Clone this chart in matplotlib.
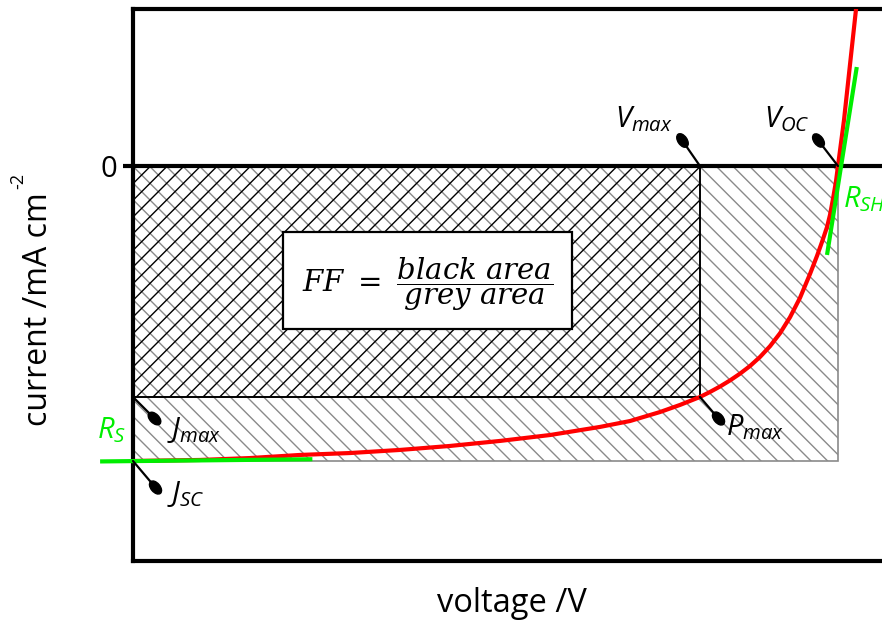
import matplotlib
matplotlib.use("Agg")
import matplotlib.pyplot as plt
from matplotlib.patches import Rectangle
from matplotlib.markers import MarkerStyle
from matplotlib.transforms import Affine2D, offset_copy
import numpy as np

plt.rcParams['font.family'] = ['Open Sans', 'DejaVu Sans']
plt.rcParams['mathtext.fontset'] = 'custom'
plt.rcParams['mathtext.it'] = 'Open Sans:italic'
plt.rcParams['mathtext.rm'] = 'Open Sans'
plt.rcParams['hatch.linewidth'] = 1.0

# ---- data (voltage in V, current density in mA cm^-2) ----
iv_voltage = [0.0000, 0.0855, 0.1494, 0.2132, 0.2770, 0.3409, 0.4047, 0.4685,
              0.5323, 0.5962, 0.6345, 0.6728, 0.6983, 0.7238, 0.7366, 0.7494,
              0.7621, 0.7749, 0.7877, 0.8004, 0.8132, 0.8260, 0.8387, 0.8515,
              0.8643, 0.8732, 0.8796, 0.8860, 0.8898, 0.8936, 0.8975, 0.9000,
              0.9077, 0.9153, 0.9243]
iv_current = [-20.00, -19.93, -19.80, -19.59, -19.46, -19.25, -18.98, -18.64,
              -18.24, -17.69, -17.29, -16.68, -16.20, -15.66, -15.32, -14.95,
              -14.54, -14.08, -13.56, -12.95, -12.22, -11.34, -10.26, -8.94,
              -7.32, -6.10, -5.15, -4.14, -3.32, -2.24, -1.02, 0.00,
              3.12, 6.85, 11.25]

V_oc = 0.900
V_max = 0.7238
J_sc = -20.0
J_max = -15.66

rs_voltage = [-0.042, 0.229]
rs_current = [-20.03, -19.88]
rsh_voltage = [0.886, 0.924]
rsh_current = [-6.03, 6.71]

x_limits = (0.0, 0.9562)
y_limits = (-26.78, 10.644)
y_ticks = [0]
y_ticklabels = ['0']

RED = '#ff0000'
GREEN = '#00ee00'

fig = plt.figure(figsize=(8.82, 6.24), dpi=100)
ax = fig.add_axes([133/882, 1-561/624, (882-133)/882, (561-9)/624])
ax.set_xlim(*x_limits)
ax.set_ylim(*y_limits)

for s in ['left', 'top', 'bottom']:
    ax.spines[s].set_linewidth(3)
    ax.spines[s].set_color('black')
ax.spines['right'].set_visible(False)
ax.set_xticks([])
ax.set_yticks(y_ticks)
ax.set_yticklabels(y_ticklabels, fontsize=21)
ax.tick_params(axis='y', direction='out', length=7, width=3, pad=4)

# hatched areas
grey_rect = Rectangle((0, J_sc), V_oc, -J_sc, facecolor='none',
                      edgecolor='#8a8a8a', hatch='\\\\', lw=1.2, zorder=1)
ax.add_patch(grey_rect)
black_rect = Rectangle((0, J_max), V_max, -J_max, facecolor='none',
                       edgecolor='black', hatch='//', lw=1.4, zorder=2)
ax.add_patch(black_rect)

# zero line
ax.axhline(0, color='black', lw=3, zorder=3)

# FF box
ax.add_patch(Rectangle(((283-133)/783.33, (166-329)/14.75),
                       (572-283)/783.33, (329-232)/14.75,
                       facecolor='white', edgecolor='black', lw=1.6, zorder=4))
ax.text(((303+553)/2-133)/783.33, (166-284)/14.75,
        r'$FF\ =\ \dfrac{black\ area}{grey\ area}$', math_fontfamily='dejavuserif',
        fontsize=21, ha='center', va='center', zorder=5)

# IV curve and resistances
ax.plot(iv_voltage, iv_current, color=RED, lw=3, zorder=6,
        solid_capstyle='butt', solid_joinstyle='round')
ax.plot(rs_voltage, rs_current, color=GREEN, lw=3, zorder=7, clip_on=False,
        solid_capstyle='butt')
ax.plot(rsh_voltage, rsh_current, color=GREEN, lw=3, zorder=7, clip_on=False,
        solid_capstyle='butt')

# pins
def pin(x, y, dx, dy):
    ang = np.degrees(np.arctan2(dy, dx)) - 90
    tr = offset_copy(ax.transData, fig=fig, x=dx, y=dy, units='dots')
    ax.annotate('', xy=(x, y), xytext=(dx, dy), textcoords='offset pixels',
                arrowprops=dict(arrowstyle='-', lw=1.6, color='black',
                                shrinkA=0, shrinkB=0), zorder=8,
                annotation_clip=False)
    m = MarkerStyle('o', transform=Affine2D().scale(0.6, 1.0).rotate_deg(ang))
    ax.plot([x], [y], marker=m, ms=11, color='black', mec='black',
            transform=tr, zorder=9, clip_on=False)

pin(V_max, 0, -18, 26)
pin(V_oc, 0, -20, 26)
pin(0, J_max, 21, -21)
pin(0, J_sc, 22, -26)
pin(V_max, J_max, 18, -21)

def label(x, y, dx, dy, s, ha, color='black'):
    ax.annotate(s, xy=(x, y), xytext=(dx, dy), textcoords='offset pixels',
                ha=ha, va='baseline', fontsize=21, color=color, zorder=10,
                annotation_clip=False)

label(V_max, 0, -27, 39, r'$V_{max}$', 'right')
label(V_oc, 0, -28, 39, r'$V_{OC}$', 'right')
label(V_oc, 0, 5, -41, r'$R_{SH}$', 'left', GREEN)
label(0, J_sc, -36, 23, r'$R_{S}$', 'left', GREEN)
label(0, J_max, 34, -41, r'$J_{max}$', 'left')
label(0, J_sc, 34, -41, r'$J_{SC}$', 'left')
label(V_max, J_max, 26, -38, r'$P_{max}$', 'left')

# axis labels
fig.text(512/882, 1-603/624, 'voltage /V', ha='center', va='center', fontsize=23.5)
fig.text(39/882, 1-309/624, 'current /mA cm', rotation=90, ha='center',
         va='center', fontsize=23)
fig.text(18/882, 1-181/624, '-2', rotation=90, ha='center', va='center',
         fontsize=13)

fig.savefig('out.png', dpi=100)
